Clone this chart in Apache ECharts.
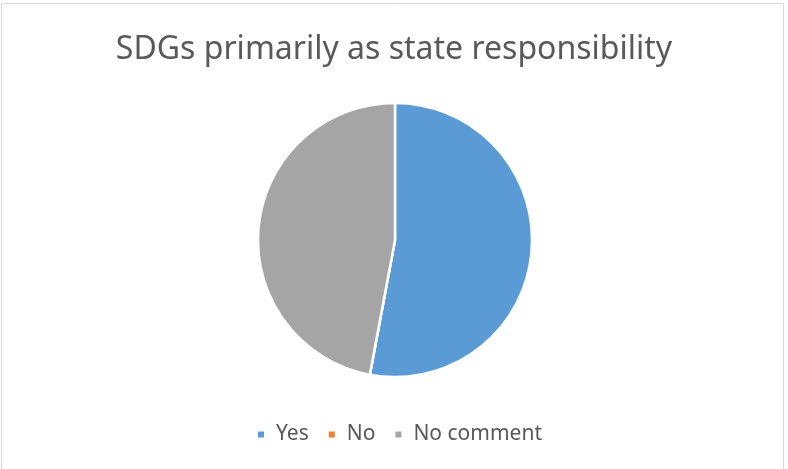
<!DOCTYPE html>
<html>
<head>
<meta charset="utf-8">
<script src="https://cdn.jsdelivr.net/npm/echarts@6/dist/echarts.min.js"></script>
<style>
  html, body { margin: 0; padding: 0; background: #fff; }
  #chart { width: 788px; height: 469px; }
</style>
</head>
<body>
<div id="chart"></div>
<script>
const titleText = 'SDGs primarily as state responsibility';
const categories = ['Yes', 'No', 'No comment'];
const values = [9, 0, 8];
const colors = ['#5B9BD5', '#ED7D31', '#A5A5A5'];

const chart = echarts.init(document.getElementById('chart'), null, { renderer: 'canvas' });
const option = {
  animation: false,
  backgroundColor: '#fff',
  title: {
    text: titleText,
    left: 'center',
    top: 29,
    textStyle: {
      fontFamily: 'Noto Sans',
      fontSize: 32,
      fontWeight: 'normal',
      color: '#595959'
    }
  },
  legend: {
    data: categories,
    bottom: 24,
    left: 256,
    icon: 'rect',
    itemWidth: 8,
    itemHeight: 8,
    itemGap: 18,
    padding: 0,
    textStyle: {
      fontFamily: 'Noto Sans',
      fontSize: 21,
      color: '#595959',
      padding: [0, 0, 0, 6]
    }
  },
  graphic: [{
    type: 'rect',
    shape: { x: 1.5, y: 3.5, width: 782, height: 470 },
    style: { fill: 'none', stroke: '#d9d9d9', lineWidth: 1 },
    silent: true
  }],
  series: [{
    type: 'pie',
    center: [395, 240],
    radius: 137,
    startAngle: 90,
    label: { show: false },
    labelLine: { show: false },
    itemStyle: { borderColor: '#fff', borderWidth: 2.5 },
    data: categories.map((name, i) => ({
      name: name,
      value: values[i],
      itemStyle: { color: colors[i] }
    }))
  }]
};
chart.setOption(option);
</script>
</body>
</html>
